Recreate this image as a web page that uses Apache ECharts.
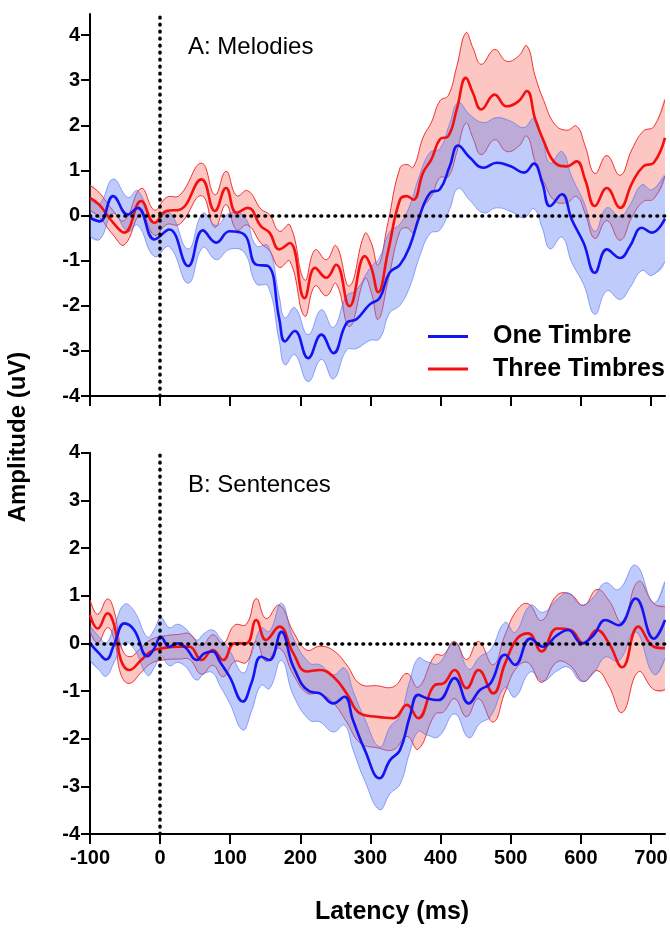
<!DOCTYPE html>
<html><head><meta charset="utf-8">
<script src="https://cdn.jsdelivr.net/npm/echarts@6/dist/echarts.min.js"></script>
<style>html,body{margin:0;padding:0;background:#fff}#c{width:670px;height:928px}</style>
</head><body><div id="c"></div>
<script>
const xTicks = [-100, 0, 100, 200, 300, 400, 500, 600, 700];
const yTicks = [-4, -3, -2, -1, 0, 1, 2, 3, 4];
const legendNames = ['One Timbre', 'Three Timbres'];

// Panel A: Melodies — One Timbre (latency ms, mean uV, SEM uV)
const oneA_t = [-100,-86,-67,-46,-32,-8,13,40,61,80,99,120,137,154,170,178,192,211,230,247,266,280,299,313,327,342,356,370,385,399,413,425,442,461,480,500,519,533,545,556,573,587,604,620,637,656,670,687,701,720];
const oneA_mean = [-0.05,-0.13,0.43,0.02,0.17,-0.53,-0.31,-1.12,-0.33,-0.6,-0.35,-0.42,-1.09,-1.12,-2.3,-2.79,-2.56,-3.16,-2.64,-3.05,-2.38,-2.3,-1.97,-1.83,-1.27,-1.09,-0.68,-0.01,0.5,0.58,1.09,1.55,1.28,1.06,1.17,1.09,0.95,1.15,0.72,0.21,0.47,-0.09,-0.61,-1.27,-0.75,-0.94,-0.68,-0.27,-0.38,-0.07];
const oneA_sem = [0.4,0.4,0.38,0.38,0.38,0.38,0.38,0.38,0.38,0.38,0.4,0.4,0.42,0.45,0.5,0.52,0.52,0.52,0.55,0.57,0.6,0.65,0.8,0.9,0.9,0.9,0.9,0.9,0.9,0.9,0.95,0.95,0.95,1.0,1.0,1.0,1.0,1.0,1.0,0.95,0.95,0.95,0.92,0.92,0.92,0.92,0.92,0.95,0.95,0.95];

// Panel A: Melodies — Three Timbres
const threeA_t = [-100,-87,-67,-51,-27,-8,9,28,59,78,94,109,125,144,156,170,185,206,221,237,251,270,292,301,311,325,342,352,361,375,387,399,411,423,436,446,458,477,494,511,523,535,547,563,580,594,606,620,637,656,673,689,704,720];
const threeA_mean = [0.39,0.24,-0.16,-0.38,0.32,-0.16,0.1,0.13,0.8,0.1,0.61,0.06,0.17,-0.24,-0.38,-0.75,-0.61,-1.83,-1.16,-1.38,-1.09,-2.01,-0.9,-1.15,-1.7,-0.8,0.35,0.43,0.35,0.95,1.25,1.69,1.76,2.35,3.05,2.72,2.35,2.68,2.42,2.53,2.76,2.13,1.65,1.17,1.09,1.2,0.8,0.21,0.61,0.17,0.72,1.09,1.17,1.72];
const threeA_sem = [0.27,0.27,0.27,0.27,0.28,0.28,0.3,0.32,0.36,0.36,0.37,0.38,0.38,0.38,0.4,0.4,0.4,0.4,0.4,0.4,0.42,0.45,0.5,0.55,0.6,0.65,0.7,0.7,0.72,0.78,0.82,0.85,0.9,0.95,1.0,1.0,1.0,1.0,1.0,1.0,1.0,0.95,0.9,0.85,0.8,0.78,0.75,0.72,0.72,0.72,0.75,0.78,0.8,0.85];

// Panel B: Sentences — One Timbre
const oneB_t = [-100,-87,-77,-65,-51,-37,-18,-8,1,13,25,37,52,63,75,85,99,118,130,144,156,173,190,213,228,247,263,275,292,313,328,342,356,368,380,397,420,440,456,471,492,506,528,546,566,582,601,618,635,654,678,704,720];
const oneB_mean = [0,-0.21,-0.34,0,0.42,0.28,-0.27,-0.1,0.14,-0.07,0,-0.1,-0.35,-0.21,-0.17,-0.38,-0.7,-1.22,-0.84,-0.28,-0.35,0.24,-0.49,-1.01,-1.05,-1.26,-1.12,-1.61,-2.24,-2.83,-2.45,-2.24,-1.54,-1.08,-1.15,-1.19,-0.73,-1.26,-0.98,-0.84,-0.24,-0.45,0.1,-0.07,0.17,0.28,0,0.17,0.49,0.38,0.94,0.1,0.49];
const oneB_sem = [0.35,0.35,0.35,0.38,0.4,0.4,0.4,0.4,0.4,0.4,0.4,0.4,0.42,0.42,0.45,0.5,0.55,0.6,0.6,0.6,0.6,0.6,0.6,0.6,0.6,0.6,0.6,0.62,0.65,0.66,0.7,0.72,0.75,0.77,0.77,0.77,0.75,0.72,0.7,0.7,0.68,0.68,0.7,0.72,0.75,0.78,0.8,0.8,0.78,0.75,0.7,0.75,0.8];

// Panel B: Sentences — Three Timbres
const threeB_t = [-100,-89,-75,-65,-56,-44,-27,-13,4,28,42,59,75,90,106,123,137,151,170,190,209,228,247,266,285,309,333,352,368,392,404,420,437,454,475,492,509,525,544,566,585,604,623,640,659,682,704,720];
const threeB_mean = [0.59,0.31,0.63,0.35,-0.35,-0.56,-0.35,-0.17,-0.1,-0.07,-0.07,-0.35,-0.14,-0.35,0,0,0.49,0.07,0.35,-0.21,-0.59,-0.56,-0.7,-1.05,-1.47,-1.54,-1.57,-1.29,-1.57,-0.87,-0.84,-0.56,-0.94,-0.56,-1.05,-0.42,0.1,0.21,-0.17,0.31,0.28,0,0.28,0,-0.5,0.35,-0.07,-0.1];
const threeB_sem = [0.32,0.3,0.3,0.3,0.3,0.28,0.26,0.25,0.25,0.26,0.27,0.3,0.32,0.35,0.38,0.4,0.45,0.45,0.45,0.45,0.45,0.5,0.55,0.6,0.62,0.65,0.66,0.66,0.65,0.62,0.6,0.6,0.6,0.6,0.6,0.6,0.6,0.62,0.65,0.7,0.75,0.8,0.85,0.9,0.95,0.95,0.9,0.87];

const FONT = '"Liberation Sans", Arial, Helvetica, sans-serif';
const BLUE = '#1414f2', RED = '#f51010';
const BLUE_FILL = 'rgba(100,130,245,0.42)', RED_FILL = 'rgba(245,95,80,0.35)';
const BLUE_EDGE = 'rgba(70,100,240,0.55)', RED_EDGE = 'rgba(240,30,30,0.9)';
const SMOOTH = 0.45;

function pairs(t, v) { return t.map((x, i) => [x, v[i]]); }

function band(name, gi, t, mean, sem, fill, edge, z) {
  return {
    type: 'custom', name: name, coordinateSystem: 'cartesian2d',
    xAxisIndex: gi, yAxisIndex: gi, z: z, silent: true,
    data: [[t[0], mean[0]]],
    renderItem: function (params, api) {
      const up = t.map((x, i) => api.coord([x, mean[i] + sem[i]]));
      const lo = t.map((x, i) => api.coord([x, mean[i] - sem[i]]));
      const cs = params.coordSys;
      return {
        type: 'group',
        clipPath: { type: 'rect', shape: { x: cs.x, y: cs.y, width: cs.width, height: cs.height } },
        children: [
          { type: 'polygon', shape: { points: up.concat(lo.slice().reverse()), smooth: SMOOTH }, style: { fill: fill, stroke: null } },
          { type: 'polyline', shape: { points: up, smooth: SMOOTH }, style: { stroke: edge, lineWidth: 1, fill: null } },
          { type: 'polyline', shape: { points: lo, smooth: SMOOTH }, style: { stroke: edge, lineWidth: 1, fill: null } }
        ]
      };
    }
  };
}

function meanLine(name, gi, t, mean, color, z) {
  return {
    type: 'line', name: name, xAxisIndex: gi, yAxisIndex: gi, z: z,
    data: pairs(t, mean), smooth: SMOOTH, symbol: 'none', silent: true,
    lineStyle: { color: color, width: 2.6 }, itemStyle: { color: color }
  };
}

function refLines(gi) {
  return {
    type: 'line', name: 'ref' + gi, xAxisIndex: gi, yAxisIndex: gi, z: 10, data: [], silent: true,
    markLine: {
      silent: true, symbol: ['none', 'none'], label: { show: false }, animation: false,
      lineStyle: { color: '#000', width: 3.6, type: [0.6, 6.4], cap: 'round' },
      emphasis: { disabled: true },
      data: [{ xAxis: 0 }, { yAxis: 0 }]
    }
  };
}

function xAxisDef(gi, showLabels) {
  return {
    type: 'value', gridIndex: gi, min: -100, max: 720,
    axisLine: { show: true, onZero: false, lineStyle: { color: '#000', width: 2 } },
    axisTick: { show: true, length: 10, lineStyle: { color: '#000', width: 2 }, customValues: xTicks },
    axisLabel: { show: showLabels, customValues: xTicks, margin: 14, color: '#000', fontFamily: FONT, fontWeight: 'bold', fontSize: 20 },
    splitLine: { show: false }
  };
}
function yAxisDef(gi, max) {
  return {
    type: 'value', gridIndex: gi, min: -4, max: max,
    axisLine: { show: true, onZero: false, lineStyle: { color: '#000', width: 2 } },
    axisTick: { show: true, length: 9, lineStyle: { color: '#000', width: 2 }, customValues: yTicks },
    axisLabel: { customValues: yTicks, margin: 10, color: '#000', fontFamily: FONT, fontWeight: 'bold', fontSize: 20 },
    splitLine: { show: false }
  };
}

const chart = echarts.init(document.getElementById('c'), null, { renderer: 'canvas' });
chart.setOption({
  animation: false,
  backgroundColor: '#fff',
  textStyle: { fontFamily: FONT },
  grid: [
    { left: 90, right: 5, top: 14, height: 382, outerBoundsMode: 'none', containLabel: false },
    { left: 90, right: 5, top: 452.7, height: 381.3, outerBoundsMode: 'none', containLabel: false }
  ],
  xAxis: [xAxisDef(0, false), xAxisDef(1, true)],
  yAxis: [yAxisDef(0, 4.466), yAxisDef(1, 4)],
  title: [
    { text: 'A: Melodies', left: 188, top: 35, padding: 0, textStyle: { fontFamily: FONT, fontSize: 24, fontWeight: 'normal', color: '#000' } },
    { text: 'B: Sentences', left: 188, top: 473, padding: 0, textStyle: { fontFamily: FONT, fontSize: 24, fontWeight: 'normal', color: '#000' } }
  ],
  legend: {
    data: legendNames, orient: 'vertical', left: 428, top: 324, padding: 0,
    icon: 'rect', itemWidth: 40, itemHeight: 3, itemGap: 7.5,
    selectedMode: false,
    textStyle: { fontFamily: FONT, fontSize: 25, fontWeight: 'bold', color: '#000', lineHeight: 25, padding: [0, 0, 0, 20] }
  },
  graphic: [
    { type: 'text', x: 392, y: 912, silent: true,
      style: { text: 'Latency (ms)', font: 'bold 25px ' + FONT, fill: '#000', textAlign: 'center', textVerticalAlign: 'middle' } },
    { type: 'text', x: 18, y: 437, rotation: Math.PI / 2, silent: true,
      style: { text: 'Amplitude (uV)', font: 'bold 24px ' + FONT, fill: '#000', textAlign: 'center', textVerticalAlign: 'middle' } }
  ],
  series: [
    band('Three Timbres SEM A', 0, threeA_t, threeA_mean, threeA_sem, RED_FILL, RED_EDGE, 1),
    band('One Timbre SEM A', 0, oneA_t, oneA_mean, oneA_sem, BLUE_FILL, BLUE_EDGE, 2),
    meanLine('Three Timbres', 0, threeA_t, threeA_mean, RED, 3),
    meanLine('One Timbre', 0, oneA_t, oneA_mean, BLUE, 4),
    refLines(0),
    band('Three Timbres SEM B', 1, threeB_t, threeB_mean, threeB_sem, RED_FILL, RED_EDGE, 1),
    band('One Timbre SEM B', 1, oneB_t, oneB_mean, oneB_sem, BLUE_FILL, BLUE_EDGE, 2),
    meanLine('Three Timbres', 1, threeB_t, threeB_mean, RED, 3),
    meanLine('One Timbre', 1, oneB_t, oneB_mean, BLUE, 4),
    refLines(1)
  ]
});
</script></body></html>
